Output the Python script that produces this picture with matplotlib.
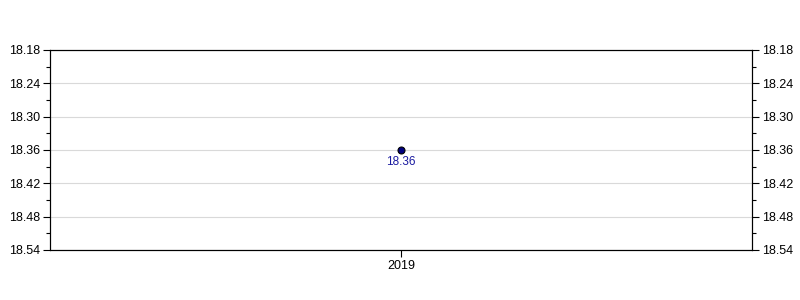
import matplotlib
matplotlib.use("Agg")
from matplotlib import pyplot as plt
from matplotlib.ticker import MultipleLocator, FormatStrFormatter

# data
years = ["2019"]
values = [18.36]

# style
point_color = "#000080"
label_color = "#1a1aa0"
grid_color = "#d9d9d9"
font = "Liberation Sans"
fsize = 9

plt.rcParams["font.family"] = [font, "DejaVu Sans"]

fig = plt.figure(figsize=(8, 3), dpi=100)
ax = fig.add_axes([0.0625, 0.1667, 0.8775, 0.6667])

xs = list(range(len(years)))
ax.plot(xs, values, linestyle="none", marker="o", markersize=5,
        markerfacecolor=point_color, markeredgecolor="black", markeredgewidth=0.8, zorder=3)
for x, v in zip(xs, values):
    ax.annotate(f"{v:.2f}", (x, v), xytext=(0, -4), textcoords="offset points",
                ha="center", va="top", fontsize=8.5, color=label_color)

ax.set_xlim(-0.5, len(years) - 0.5)
ax.set_xticks(xs)
ax.set_xticklabels(years)
ax.set_ylim(18.54, 18.18)
ax.yaxis.set_major_locator(MultipleLocator(0.06))
ax.yaxis.set_minor_locator(MultipleLocator(0.03))
ax.yaxis.set_major_formatter(FormatStrFormatter("%.2f"))
ax.grid(axis="y", which="major", color=grid_color, linewidth=0.8)
ax.set_axisbelow(True)

tw = ax.twinx()
tw.set_ylim(ax.get_ylim())
tw.yaxis.set_major_locator(MultipleLocator(0.06))
tw.yaxis.set_minor_locator(MultipleLocator(0.03))
tw.yaxis.set_major_formatter(FormatStrFormatter("%.2f"))

for a in (ax, tw):
    a.tick_params(which="major", length=5, width=0.8, labelsize=fsize, colors="black", pad=2)
    a.tick_params(which="minor", length=3, width=0.8)
    for s in a.spines.values():
        s.set_linewidth(0.8)

fig.savefig("out.png", dpi=100)
